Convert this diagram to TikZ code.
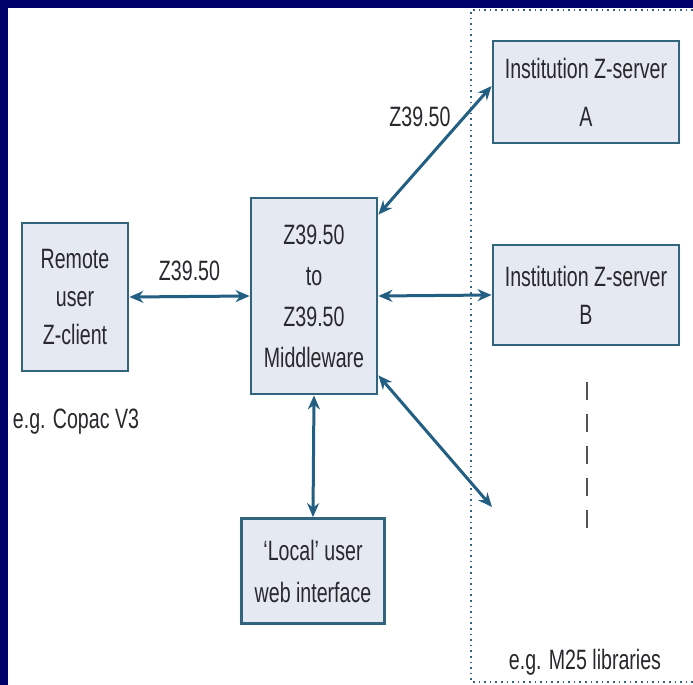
\documentclass[tikz,border=0pt]{standalone}
\usepackage{fontspec}
\setmainfont{Liberation Sans}[FakeStretch=0.7]
\usepackage{tikz}
\usetikzlibrary{arrows.meta,positioning}
\definecolor{navyframe}{RGB}{0,0,105}
\definecolor{boxedge}{RGB}{50,100,125}
\definecolor{boxfill}{RGB}{229,233,241}
\definecolor{linkcol}{RGB}{35,95,130}
\definecolor{txtgray}{RGB}{40,40,45}

\begin{document}
\begin{tikzpicture}[x=0.5pt, y=-0.5pt, font=\fontsize{14}{19}\selectfont, text=txtgray,
  sysbox/.style={draw=boxedge, fill=boxfill, line width=1.4pt, align=center, inner sep=0pt},
  link/.style={linkcol, line width=1.5pt, {Stealth[length=7pt,width=6pt]}-{Stealth[length=7pt,width=6pt]}}]
  \useasboundingbox (0,0) rectangle (693,685);
  \fill[white] (0,0) rectangle (693,685);
  \fill[navyframe] (0,0) rectangle (693,8);
  \fill[navyframe] (0,0) rectangle (8,685);
  \draw[boxedge, dotted, line width=0.8pt] (693,10) -- (471,10) -- (471,682) -- (693,682);

  \node[sysbox, minimum width=53pt, minimum height=74pt] (remote) at (75,297) {Remote\\user\\Z-client};
  \node[sysbox, minimum width=63pt, minimum height=98pt, font=\fontsize{14}{20.5}\selectfont] (mware) at (314,296) {Z39.50\\to\\Z39.50\\Middleware};
  \node[sysbox, minimum width=71.5pt, minimum height=52.5pt, font=\fontsize{14}{21}\selectfont] (local) at (313,571) {`Local' user\\web interface};
  \node[sysbox, minimum width=93pt, minimum height=51pt, font=\fontsize{14}{24}\selectfont] (srvA) at (586,92) {Institution Z-server\\A};
  \node[sysbox, minimum width=93pt, minimum height=50pt] (srvB) at (586,295) {Institution Z-server\\B};
  \node (copac) at (76,422) {e.g. Copac V3};
  \node (m25) at (585,662) {e.g. M25 libraries};
  \coordinate (more) at (492,507);

  \draw[link] (remote.east) -- node[above=4pt, text=txtgray] {Z39.50} (mware.west);
  \draw[link] (mware.east) -- (srvB.west);
  \draw[link] ([yshift=-9pt]mware.north east) -- node[midway, xshift=-7.5pt, yshift=16.5pt, text=txtgray] {Z39.50} ([yshift=3pt]srvA.west);
  \draw[link] ([yshift=10pt]mware.south east) -- (more);
  \draw[link] (mware.south) -- (local.north);
  \draw[txtgray!80, line width=1pt, dash pattern=on 9pt off 7pt] (587,382) -- (587,542);
\end{tikzpicture}
\end{document}
